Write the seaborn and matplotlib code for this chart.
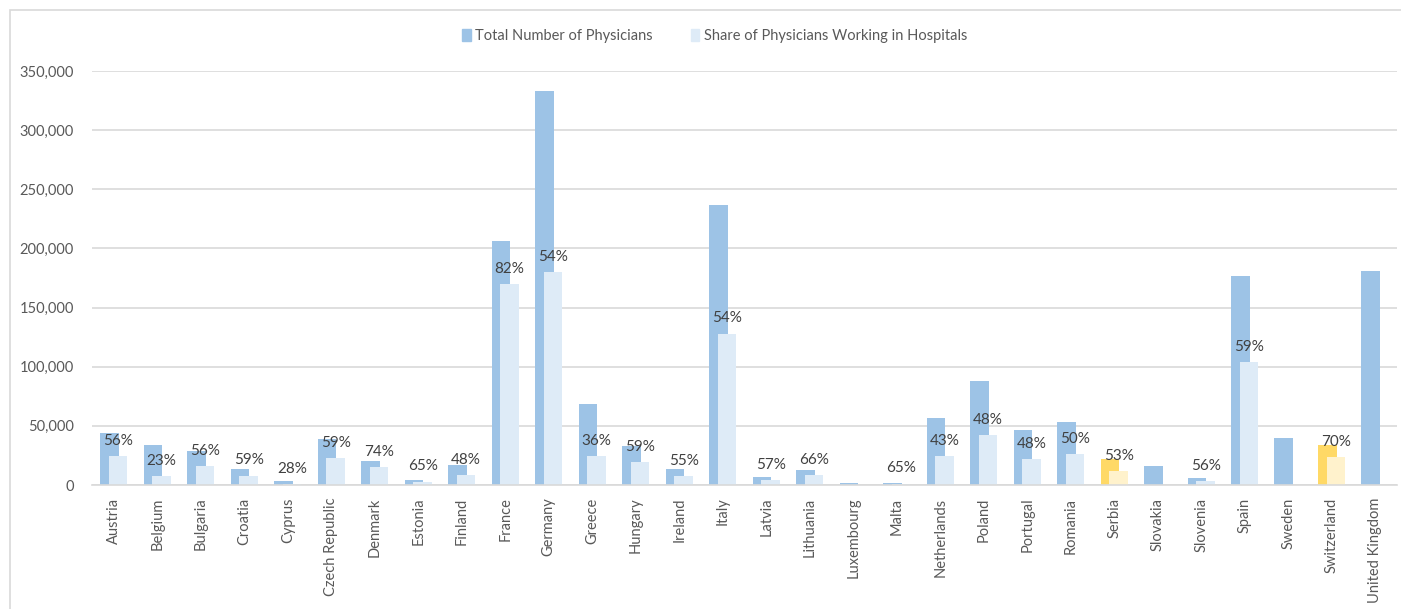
import numpy as np
import pandas as pd
import matplotlib
matplotlib.use('Agg')
import matplotlib.pyplot as plt
import matplotlib.patches as mpatches
from matplotlib.ticker import FuncFormatter
import seaborn as sns

# Values
countries = ['Austria', 'Belgium', 'Bulgaria', 'Croatia', 'Cyprus', 'Czech Republic',
             'Denmark', 'Estonia', 'Finland', 'France', 'Germany', 'Greece', 'Hungary',
             'Ireland', 'Italy', 'Latvia', 'Lithuania', 'Luxembourg', 'Malta',
             'Netherlands', 'Poland', 'Portugal', 'Romania', 'Serbia', 'Slovakia',
             'Slovenia', 'Spain', 'Sweden', 'Switzerland', 'United Kingdom']
total = [44000, 33800, 28700, 13500, 3400, 39000, 20500, 4500, 17000, 206000,
         333000, 68500, 33000, 13500, 236500, 6800, 12700, 1700, 1800, 56600,
         88000, 46500, 53000, 22000, 16000, 6000, 176700, 40000, 34000, 181000]
hospital = [24600, 7800, 16000, 8000, 1000, 23000, 15200, 2900, 8200, 169800,
            179800, 24700, 19500, 7400, 128000, 3900, 8400, np.nan, 1200, 24300,
            42200, 22300, 26500, 11700, np.nan, 3400, 104000, np.nan, 23800, np.nan]
share = ['56%', '23%', '56%', '59%', '28%', '59%', '74%', '65%', '48%', '82%',
         '54%', '36%', '59%', '55%', '54%', '57%', '66%', '', '65%', '43%',
         '48%', '48%', '50%', '53%', '', '56%', '59%', '', '70%', '']
highlight = ['Serbia', 'Switzerland']

df = pd.DataFrame({'country': countries, 'total': total,
                   'hospital': hospital, 'share': share})
df['pos'] = np.arange(len(df))
df['hl'] = df['country'].isin(highlight)

sns.set_style('white')
plt.rcParams['font.family'] = ['Lato', 'DejaVu Sans']

fig = plt.figure(figsize=(14.01, 6.09), dpi=100)
ax = fig.add_axes([0.0657, 0.2036, 0.9314, 0.6798])

blue, light_blue = '#9DC3E6', '#DEEBF7'
yellow, light_yellow = '#FFD966', '#FFF2CC'

tot_colors = {c: (yellow if h else blue) for c, h in zip(df['country'], df['hl'])}
hos_colors = {c: (light_yellow if h else light_blue) for c, h in zip(df['country'], df['hl'])}

# overlapping bars: totals slightly left, hospital share slightly right
sns.barplot(data=df, x=df['pos'] - 0.1, y='total', hue='country', palette=tot_colors,
            native_scale=True, width=0.43, legend=False, ax=ax, linewidth=0, saturation=1)
hos = df.dropna(subset=['hospital'])
sns.barplot(data=hos, x=hos['pos'] + 0.1, y='hospital', hue='country', palette=hos_colors,
            native_scale=True, width=0.43, legend=False, ax=ax, linewidth=0, saturation=1)

# percentage labels above the hospital bars
for _, r in hos.iterrows():
    ax.annotate(r['share'], (r['pos'] + 0.1, r['hospital']), xytext=(0, 8),
                textcoords='offset points', ha='center', va='baseline',
                fontsize=11, color='#404040')

ax.set_xlim(-0.5, len(df) - 0.5)
ax.set_ylim(0, 350000)
ax.set_yticks(np.arange(0, 350001, 50000))
ax.yaxis.set_major_formatter(FuncFormatter(lambda v, p: f'{int(v):,}'))
ax.set_xticks(df['pos'])
ax.set_xticklabels(df['country'], rotation=90)
ax.tick_params(axis='both', length=0, labelsize=10.5, labelcolor='#595959')
ax.tick_params(axis='y', pad=13)
ax.tick_params(axis='x', pad=9)
ax.set_xlabel('')
ax.set_ylabel('')
ax.grid(axis='y', color='#D9D9D9', linewidth=1.2)
ax.set_axisbelow(True)
for s in ['top', 'right', 'left']:
    ax.spines[s].set_visible(False)
ax.spines['bottom'].set_color('#D9D9D9')
ax.spines['bottom'].set_linewidth(1.2)

handles = [mpatches.Patch(color=blue, label='Total Number of Physicians'),
           mpatches.Patch(color=light_blue, label='Share of Physicians Working in Hospitals')]
fig.legend(handles=handles, loc='center', bbox_to_anchor=(0.51, 0.941), ncol=2,
           frameon=False, fontsize=10.5, handlelength=0.6, handleheight=0.9,
           handletextpad=0.3, columnspacing=2.6, labelcolor='#595959')

# chart area border (only top and left edges fall inside the image)
fig.add_artist(mpatches.Rectangle((10 / 1401, -0.2), 1.5, 1.2 - 10 / 609,
                                  transform=fig.transFigure, fill=False,
                                  edgecolor='#D9D9D9', linewidth=1.2))

fig.savefig('out.png', dpi=100)
